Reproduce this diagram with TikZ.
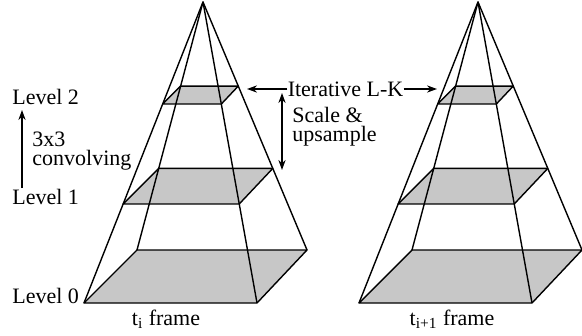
\documentclass[tikz,border=0pt]{standalone}
\usepackage{fontspec}
\setmainfont{Liberation Serif}
\usetikzlibrary{positioning, arrows.meta}

\begin{document}
\begin{tikzpicture}[
    x=0.5pt, y=-0.5pt,
    font=\fontsize{11}{9.3}\selectfont,
    edge/.style={line width=0.7pt, line join=round},
    layer/.style={edge, fill=black!22},
    lab/.style={inner sep=0pt, anchor=base west},
    arr/.style={-{Stealth[length=5pt, width=3.6pt]}, line width=0.6pt},
    dbl/.style={{Stealth[length=5pt, width=3.6pt]}-{Stealth[length=5pt, width=3.6pt]}, line width=0.6pt}]
    \useasboundingbox (0,0) rectangle (582,336);
    % two pyramids, apex and three levels each
    \foreach \ax/\nm in {203/L, 478/R} {
      \coordinate (\nm apex) at (\ax,2);
      \foreach \s/\k in {1/0, 0.671/1, 0.339/2} {
        \begin{scope}[shift={(\ax,2)}]
          \coordinate (\nm\k fl) at (-119*\s, 301*\s);
          \coordinate (\nm\k fr) at (54*\s, 301*\s);
          \coordinate (\nm\k br) at (104*\s, 248*\s);
          \coordinate (\nm\k bl) at (-66*\s, 248*\s);
        \end{scope}
        \draw[layer] (\nm\k fl) -- (\nm\k fr) -- (\nm\k br) -- (\nm\k bl) -- cycle;
      }
      \draw[edge] (\nm0fl) -- (\nm apex) -- (\nm0fr);
      \draw[edge] (\nm0bl) -- (\nm apex) -- (\nm0br);
    }
    % labels on the left
    \node[lab] (lv2) at (12,105) {Level 2};
    \node[lab] (lv1) at (12,205) {Level 1};
    \node[lab] (lv0) at (12,303) {Level 0};
    \node[lab] (conv3) at (32,147) {3x3};
    \node[lab] (conv) at (32,165) {convolving};
    \coordinate (convlo) at (22,188);
    \coordinate (convhi) at (22,110);
    \draw[arr] (convlo) -- (convhi);
    % between the pyramids
    \node[inner sep=0pt, anchor=base] (lk) at (345.5,97) {Iterative L-K};
    \coordinate (lktipL) at (247,89);
    \coordinate (lktipR) at (437,89);
    \draw[arr] (lk.west |- lktipL) -- (lktipL);
    \draw[arr] (lk.east |- lktipR) -- (lktipR);
    \coordinate (suhi) at (282,93);
    \coordinate (sulo) at (282,170);
    \draw[dbl] (suhi) -- (sulo);
    \node[lab] (su) at (292,123) {Scale \&};
    \node[lab] (up) at (292,141.5) {upsample};
    % frame captions
    \node[inner sep=0pt, anchor=base] (fi) at (166,325) {t\textsubscript{i} frame};
    \node[inner sep=0pt, anchor=base] (fj) at (452,325) {t\textsubscript{i+1} frame};
\end{tikzpicture}
\end{document}
